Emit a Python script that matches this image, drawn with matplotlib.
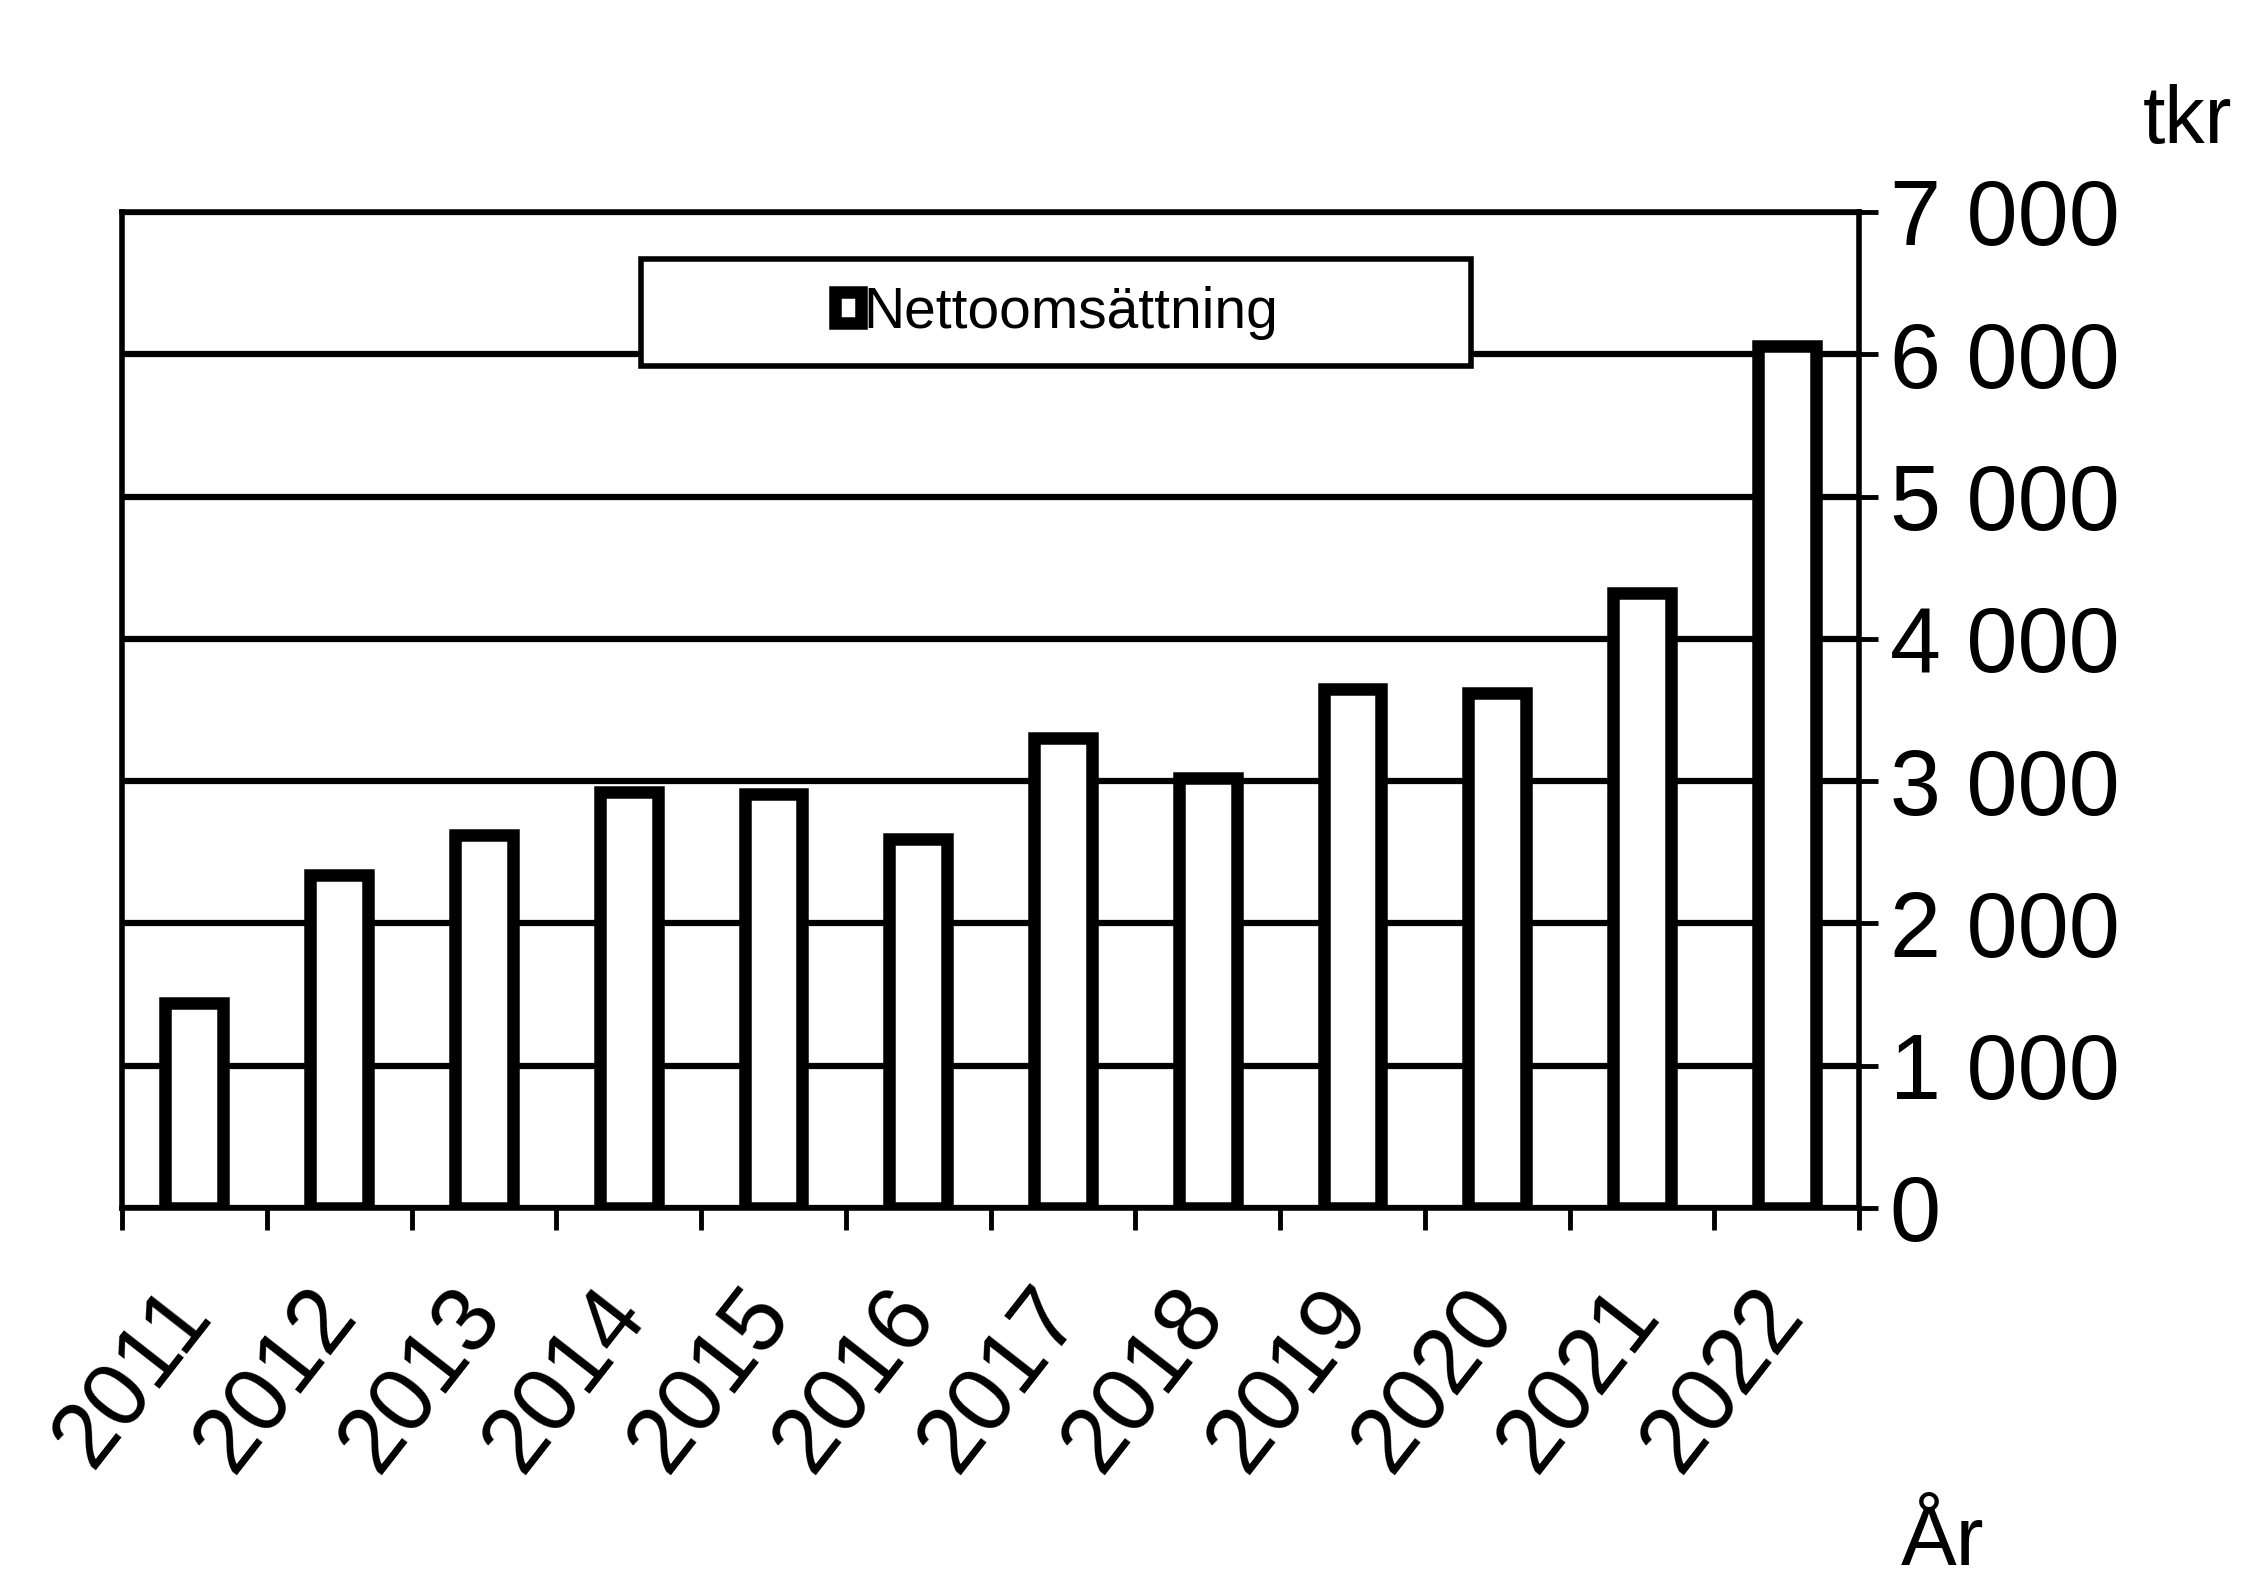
import matplotlib.pyplot as plt
from matplotlib.patches import Rectangle
from matplotlib.ticker import FuncFormatter
import numpy as np

# Nettoomsättning per år, tkr
years = ['2011', '2012', '2013', '2014', '2015', '2016',
         '2017', '2018', '2019', '2020', '2021', '2022']
nettoomsattning = [1440, 2340, 2620, 2920, 2910, 2590,
                   3300, 3020, 3650, 3620, 4320, 6060]
y_ticks = [0, 1000, 2000, 3000, 4000, 5000, 6000, 7000]

plt.rcParams['font.family'] = ['Liberation Sans', 'DejaVu Sans']

fig = plt.figure(figsize=(22.48, 15.78), dpi=100)
ax = fig.add_axes([0.0543, 0.2345, 0.7727, 0.6312])

x = np.arange(len(years))
ax.bar(x, nettoomsattning, width=0.40, color='white', edgecolor='black',
       linewidth=9, zorder=3, label='Nettoomsättning')

ax.set_xlim(-0.5, len(years) - 0.5)
ax.set_ylim(y_ticks[0], y_ticks[-1])
ax.set_yticks(y_ticks)
ax.yaxis.set_major_formatter(FuncFormatter(lambda v, p: f'{int(v):,}'.replace(',', ' ')))
ax.yaxis.tick_right()
ax.grid(axis='y', color='black', linewidth=4.5, zorder=1)
ax.tick_params(axis='y', which='major', length=14, width=3.5, labelsize=66, pad=8,
               left=False, right=True)

ax.set_xticks(x)
ax.set_xticklabels(years, rotation=52, ha='right', va='center', rotation_mode='anchor')
ax.set_xticks(np.arange(-0.5, len(years)), minor=True)
ax.tick_params(axis='x', which='major', length=0, labelsize=66, pad=66)
ax.tick_params(axis='x', which='minor', length=16, width=3.5)

for side in ['left', 'right', 'top', 'bottom']:
    ax.spines[side].set_linewidth(4)
    ax.spines[side].set_color('black')

# legend box
ax.add_patch(Rectangle((0.2986, 0.845), 0.4782, 0.108, transform=ax.transAxes,
                       facecolor='white', edgecolor='black', linewidth=4, zorder=4))
leg = ax.legend(loc='center', bbox_to_anchor=(0.538, 0.899), frameon=False,
                fontsize=41, handlelength=0.45, handleheight=0.45, handletextpad=0.05)
leg.set_zorder(5)
for h in leg.legend_handles:
    h.set_facecolor('white')
    h.set_edgecolor('black')
    h.set_linewidth(9)

fig.text(0.973, 0.923, 'tkr', fontsize=58, ha='center', va='center')
fig.text(0.864, 0.008, 'År', fontsize=60, ha='center', va='baseline')

fig.savefig('out.png', dpi=100)
